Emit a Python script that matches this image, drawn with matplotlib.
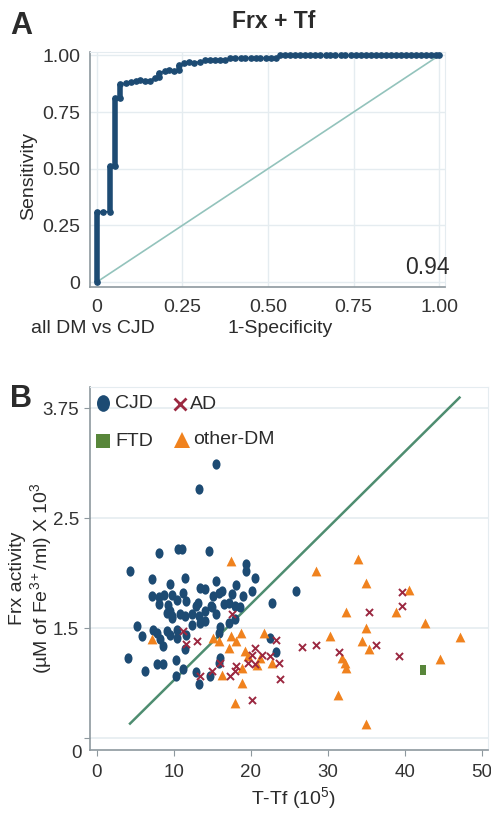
import numpy as np
import matplotlib
matplotlib.use('Agg')
from matplotlib import pyplot as plt
from matplotlib.path import Path
from matplotlib.transforms import Affine2D

plt.rcParams['font.family'] = ['Liberation Sans', 'DejaVu Sans']
plt.rcParams['mathtext.fontset'] = 'custom'
plt.rcParams['mathtext.rm'] = 'Liberation Sans'
plt.rcParams['mathtext.it'] = 'Liberation Sans:italic'
plt.rcParams['mathtext.bf'] = 'Liberation Sans:bold'
plt.rcParams['text.color'] = '#2b2b2b'

#%% data - panel A (ROC, all DM vs CJD)
roc_fpr = [0, 0, 0.019, 0.038, 0.038, 0.053, 0.053, 0.068, 0.068, 0.086, 0.100,
           0.113, 0.127, 0.141, 0.155, 0.169, 0.183, 0.183, 0.198, 0.212, 0.226,
           0.240, 0.240, 0.255, 0.270, 0.285, 0.300, 0.315, 0.330, 0.345, 0.360,
           0.375, 0.390, 0.405, 0.420, 0.434, 0.449, 0.464, 0.478, 0.493, 0.508,
           0.522, 0.535, 0.550, 0.565, 0.579, 0.594, 0.609, 0.624, 0.638, 0.653,
           0.668, 0.682, 0.697, 0.712, 0.726, 0.741, 0.756, 0.771, 0.785, 0.800,
           0.815, 0.829, 0.844, 0.859, 0.874, 0.888, 0.903, 0.918, 0.932, 0.947,
           0.962, 0.976, 0.990, 1.0]
roc_tpr = [0, 0.31, 0.31, 0.31, 0.51, 0.51, 0.81, 0.81, 0.872, 0.878, 0.884,
           0.889, 0.891, 0.889, 0.889, 0.901, 0.906, 0.922, 0.931, 0.934, 0.931,
           0.934, 0.957, 0.967, 0.970, 0.967, 0.972, 0.978, 0.980, 0.980, 0.978,
           0.980, 0.988, 0.988, 0.988, 0.988, 0.988, 0.988, 0.988, 0.988, 0.988,
           0.988, 1.0, 1.0, 1.0, 1.0, 1.0, 1.0, 1.0, 1.0, 1.0,
           1.0, 1.0, 1.0, 1.0, 1.0, 1.0, 1.0, 1.0, 1.0, 1.0,
           1.0, 1.0, 1.0, 1.0, 1.0, 1.0, 1.0, 1.0, 1.0, 1.0,
           1.0, 1.0, 1.0, 1.0]
auc_text = '0.94'

#%% data - panel B (Frx activity vs T-Tf)
cjd_x = [15.5, 13.2, 8.1, 10.5, 11.1, 14.6, 4.3, 19.4, 19.4, 20.5,
         7.2, 9.5, 11.4, 15.5, 13.4, 14.1, 15.8, 16.3, 18.1, 20.1,
         7.1, 8.0, 8.7, 9.8, 10.4, 11.2, 11.6, 15.1, 14.8, 17.5,
         17.1, 19.0, 13.1, 12.9, 16.5, 18.0, 18.6, 9.2, 9.1, 9.5,
         10.8, 11.4, 22.7, 25.8, 14.0, 14.9, 12.3, 13.2, 5.2, 5.8,
         7.3, 7.8, 8.2, 8.6, 9.1, 9.5, 10.4, 10.4, 11.4, 4.1,
         6.2, 7.8, 8.6, 10.3, 10.3, 11.2, 13.4, 14.0, 15.8, 16.0,
         15.8, 14.7, 12.9, 13.2, 22.5, 23.3, 17.9, 12.3, 9.8, 15.5,
         16.0, 11.6, 9.7, 17.1, 8.1]
cjd_y = [3.11, 2.83, 2.18, 2.22, 2.22, 2.20, 2.02, 2.08, 2.02, 1.96,
         1.95, 1.90, 1.96, 1.93, 1.87, 1.86, 1.82, 1.84, 1.89, 1.84,
         1.79, 1.78, 1.80, 1.80, 1.76, 1.82, 1.75, 1.79, 1.70, 1.81,
         1.73, 1.79, 1.73, 1.70, 1.72, 1.70, 1.69, 1.71, 1.64, 1.66,
         1.63, 1.61, 1.73, 1.84, 1.66, 1.69, 1.63, 1.61, 1.52, 1.39,
         1.48, 1.44, 1.35, 1.26, 1.46, 1.41, 1.48, 1.37, 1.21, 1.09,
         0.92, 1.01, 1.01, 1.06, 0.85, 0.94, 1.55, 1.57, 1.44, 1.10,
         1.03, 0.85, 0.90, 0.74, 1.37, 1.17, 1.58, 1.53, 1.61, 1.63,
         1.51, 1.41, 1.59, 1.55, 1.72]

ad_x = [17.6, 11.2, 13.0, 11.6, 23.2, 22.5, 23.7, 23.8, 26.6, 28.4,
        31.5, 35.4, 36.3, 39.3, 39.6, 39.6, 20.2, 13.4, 14.9, 16.0,
        17.3, 17.9, 18.1, 19.6, 20.1, 20.5, 21.5, 20.5]
ad_y = [1.63, 1.46, 1.33, 1.29, 1.34, 1.12, 1.03, 0.81, 1.24, 1.27,
        1.17, 1.65, 1.27, 1.12, 1.83, 1.70, 0.52, 0.85, 0.92, 1.02,
        0.85, 0.92, 0.99, 1.02, 1.14, 1.23, 1.14, 1.01]

ftd_x = [42.3]
ftd_y = [0.93]

oth_x = [17.4, 7.1, 28.5, 33.9, 35.0, 32.4, 40.5, 38.9, 42.6, 47.1,
         30.3, 35.0, 34.4, 35.4, 31.8, 32.2, 32.4, 44.6, 31.3, 35.0,
         18.0, 18.8, 16.2, 21.7, 18.7, 17.4, 17.1, 18.1, 15.1, 15.8,
         19.2, 19.6, 21.2, 20.8, 22.7, 18.8]
oth_y = [2.11, 1.35, 2.02, 2.13, 1.91, 1.65, 1.85, 1.65, 1.55, 1.38,
         1.39, 1.50, 1.32, 1.21, 1.10, 1.03, 0.96, 1.08, 0.59, 0.19,
         0.48, 0.75, 0.86, 1.43, 1.44, 1.39, 1.23, 1.32, 1.37, 1.32,
         1.19, 1.12, 1.10, 1.00, 1.03, 0.96]

cut_x = [4.3, 47.1]
cut_y = [0.20, 3.87]

yb_ticks = [0, 1.5, 2.5, 3.75]
yb_labels = ['', '1.5', '2.5', '3.75']
xb_ticks = [0, 10, 20, 30, 40, 50]

#%% styles
BLUE = '#1d4b73'
RED = '#9b2840'
ORANGE = '#f0821e'
GREEN = '#58863a'
GRID = '#e5ecf0'
SPINE = '#8e989e'
W, H = 491, 814


def box(l, t, r, b):
    return [l / W, 1 - b / H, (r - l) / W, (b - t) / H]


def style_axes(ax):
    for s in ['top', 'right']:
        ax.spines[s].set_color(GRID)
    for s in ['left', 'bottom']:
        ax.spines[s].set_color(SPINE)
        ax.spines[s].set_linewidth(1.2)
    ax.set_axisbelow(True)


fig = plt.figure(figsize=(W / 100, H / 100), dpi=100)

#%% panel A
axA = fig.add_axes(box(90, 52, 445, 287))
style_axes(axA)
axA.set_xlim(-0.02, 1.017)
axA.set_ylim(-0.022, 1.015)
ticksA = [0, 0.25, 0.5, 0.75, 1.0]
labelsA = ['0', '0.25', '0.50', '0.75', '1.00']
axA.set_xticks(ticksA, labelsA)
axA.set_yticks(ticksA, labelsA)
axA.tick_params(length=0, labelsize=14, labelcolor='#333333', pad=7)
axA.tick_params(axis='x', pad=9)
axA.grid(True, color=GRID, lw=1)

axA.plot([0, 1], [0, 1], color='#93c3bc', lw=1.2, zorder=2)
axA.plot(roc_fpr, roc_tpr, color=BLUE, lw=1.2, marker='o', ms=3.8, zorder=3)
for i in range(len(roc_fpr) - 1):
    if roc_fpr[i] == roc_fpr[i + 1]:
        axA.plot([roc_fpr[i], roc_fpr[i + 1]], [roc_tpr[i], roc_tpr[i + 1]],
                 color=BLUE, lw=4.0, solid_capstyle='butt', zorder=3)

fig.text(274 / W, 1 - 22 / H, 'Frx + Tf', ha='center', va='center',
         fontsize=16.5, fontweight='bold')
fig.text(21 / W, 1 - 26 / H, 'A', ha='center', va='center',
         fontsize=22, fontweight='bold')
fig.text(29 / W, 1 - 176 / H, 'Sensitivity', rotation=90, ha='center',
         va='center', fontsize=14)
fig.text(280 / W, 1 - 329 / H, '1-Specificity', ha='center', va='center', fontsize=14)
fig.text(93 / W, 1 - 329 / H, 'all DM vs CJD', ha='center', va='center', fontsize=14)
fig.text(427 / W, 1 - 268 / H, auc_text, ha='center', va='center', fontsize=16.5)

#%% panel B
axB = fig.add_axes(box(90, 387, 488, 750))
style_axes(axB)

yp = [-1.5, 0, 1.5, 2.5, 3.75, 5.0]
pp = [-1, 0, 1, 2, 3, 4]
axB.set_yscale('function', functions=(lambda v: np.interp(v, yp, pp),
                                      lambda v: np.interp(v, pp, yp)))
axB.set_xlim(-0.9, 50.8)
axB.set_ylim(-0.16, 3.99)
axB.set_xticks(xb_ticks)
axB.set_yticks(yb_ticks, yb_labels)
axB.yaxis.set_minor_locator(matplotlib.ticker.NullLocator())
axB.tick_params(length=4, color=SPINE, labelsize=13.5, labelcolor='#333333')
axB.tick_params(axis='x', pad=6)
axB.tick_params(axis='y', pad=4)
axB.grid(True, axis='y', color=GRID, lw=1.2)

ellipse = Path.unit_circle().transformed(Affine2D().scale(0.78, 1.0))
rect = Path([(-0.3, -0.5), (0.3, -0.5), (0.3, 0.5), (-0.3, 0.5), (-0.3, -0.5)],
            [Path.MOVETO, Path.LINETO, Path.LINETO, Path.LINETO, Path.CLOSEPOLY])

axB.plot(cut_x, cut_y, color='#4e8d70', lw=1.8, zorder=2)
axB.scatter(cjd_x, cjd_y, marker=ellipse, s=55, color=BLUE, lw=0, zorder=3)
axB.scatter(oth_x, oth_y, marker='^', s=50, color=ORANGE, lw=0, zorder=3)
axB.scatter(ad_x, ad_y, marker='x', s=26, color=RED, lw=1.4, zorder=4)
axB.scatter(ftd_x, ftd_y, marker=rect, s=60, color=GREEN, lw=0, zorder=3)

# legend, drawn by hand to match the two-row layout
leg = [(0.033, 0.955, ellipse, BLUE, 12, 'CJD', 0.063),
       (0.226, 0.952, 'x', RED, 9, 'AD', 0.250),
       (0.033, 0.850, 's', GREEN, 10, 'FTD', 0.063),
       (0.230, 0.855, '^', ORANGE, 11, 'other-DM', 0.258)]
for mx, my, mk, col, ms, lab, tx in leg:
    axB.plot([mx], [my], marker=mk, ms=ms, color=col, mew=2 if mk == 'x' else 0,
             ls='none', transform=axB.transAxes, clip_on=False, zorder=5)
    axB.text(tx, my, lab, transform=axB.transAxes, ha='left', va='center',
             fontsize=14)

fig.text(82 / W, 1 - 753 / H, '0', ha='right', va='center', fontsize=13.5,
         color='#333333')
fig.text(21 / W, 1 - 399 / H, 'B', ha='center', va='center',
         fontsize=22, fontweight='bold')
fig.text(18 / W, 1 - 578 / H, 'Frx activity', rotation=90, ha='center',
         va='center', fontsize=14)
fig.text(41 / W, 1 - 578 / H, '(\u00b5M of Fe$^{3+}$/ml) X 10$^{3}$', rotation=90,
         ha='center', va='center', fontsize=14)
fig.text(293 / W, 1 - 798 / H, r'T-Tf (10$^{5}$)', ha='center', va='center',
         fontsize=14)

fig.savefig('out.png', dpi=100)
